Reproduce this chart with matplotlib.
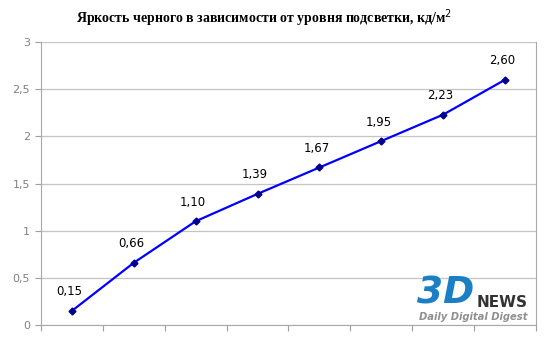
import numpy as np
import matplotlib.pyplot as plt

levels = ["1", "2", "3", "4", "5", "6", "7", "8"]
black = [0.15, 0.66, 1.10, 1.39, 1.67, 1.95, 2.23, 2.60]
yticks = [0, 0.5, 1, 1.5, 2, 2.5, 3]
title = "Яркость черного в зависимости от уровня подсветки, кд/м$^2$"

fig = plt.figure(figsize=(5.5, 3.4), dpi=100)
ax = fig.add_axes([0.0745, 0.044, 0.9, 0.8325])

x = np.arange(len(black))
ax.plot(x, black, color="#0000ff", lw=1.6, marker="D", ms=3.5,
        mfc="#00008b", mec="#00008b", zorder=3)
for xi, v in zip(x, black):
    ax.annotate(f"{v:.2f}".replace(".", ","), (xi, v), xytext=(-2, 9),
                textcoords="offset points", ha="center", va="bottom",
                fontsize=8.5, color="black", family="DejaVu Sans")

ax.set_xlim(-0.5, len(black) - 0.5)
ax.set_ylim(0, 3)
ax.set_yticks(yticks)
ax.set_yticklabels([f"{t:g}".replace(".", ",") for t in yticks])
ax.set_xticks(np.arange(len(black) + 1) - 0.5)
ax.set_xticklabels([])
ax.tick_params(axis="x", length=4, color="#a0a0a0", direction="out")
ax.tick_params(axis="y", length=4, color="#a0a0a0", labelcolor="#808080",
               labelsize=8, pad=4)
ax.grid(axis="y", color="#c4c4c4", lw=0.9)
ax.set_axisbelow(True)
for s in ["left", "bottom", "right"]:
    ax.spines[s].set_color("#a8a8a8")
ax.spines["top"].set_visible(False)

fig.text(0.481, 0.947, title, ha="center", va="center", fontsize=10,
         fontweight="bold", family="Liberation Serif")

# logo
fig.text(0.758, 0.083, "3D", fontsize=27, fontweight="bold", style="italic",
         color="#1a7fc4", ha="left", va="bottom", family="DejaVu Sans")
fig.text(0.867, 0.088, "NEWS", fontsize=11, fontweight="bold",
         color="#333333", ha="left", va="bottom", family="DejaVu Sans")
fig.text(0.762, 0.052, "Daily Digital Digest", fontsize=7.2, style="italic",
         fontweight="bold", color="#909090", ha="left", va="bottom",
         family="DejaVu Sans")

fig.savefig("out.png", dpi=100)
